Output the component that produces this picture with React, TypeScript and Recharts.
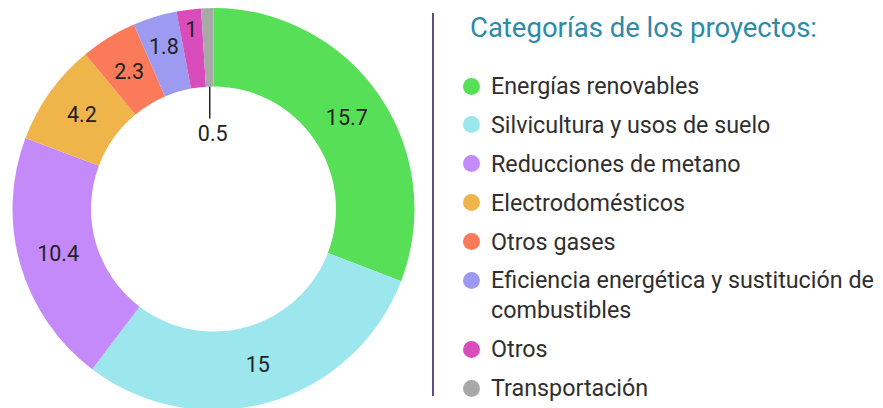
import { Cell, Legend, Pie, PieChart } from "recharts";

const categories = [
  "Energías renovables",
  "Silvicultura y usos de suelo",
  "Reducciones de metano",
  "Electrodomésticos",
  "Otros gases",
  "Eficiencia energética y sustitución de combustibles",
  "Otros",
  "Transportación",
];
const values = [15.7, 15, 10.4, 4.2, 2.3, 1.8, 1, 0.5];
const colors = ["#58DF58", "#9CE6EE", "#C48AF9", "#EFB54B", "#FA7A5A", "#9D9BF1", "#D94CBB", "#A8A8A8"];
const legendTitle = "Categorías de los proyectos:";

const data = categories.map((name, i) => ({ name, value: values[i], color: colors[i] }));

const FONT = "Roboto, 'Noto Sans', sans-serif";
const RAD = Math.PI / 180;

function renderLabel(props: any) {
  const { cx, cy, midAngle, innerRadius, outerRadius, value, percent } = props;
  const cos = Math.cos(-midAngle * RAD);
  const sin = Math.sin(-midAngle * RAD);
  if (percent < 0.015) {
    // tiny slice: leader line into the hole
    const x1 = cx + innerRadius * cos;
    const y1 = cy + innerRadius * sin;
    const y2 = y1 + 32;
    return (
      <g>
        <line x1={x1} y1={y1} x2={x1} y2={y2} stroke="#222" strokeWidth={1.5} />
        <text x={x1 + 3} y={y2 + 15} textAnchor="middle" dominantBaseline="central" fill="#222" fontSize={21.5} fontFamily={FONT}>
          {value}
        </text>
      </g>
    );
  }
  let r = (innerRadius + outerRadius) / 2;
  if (percent < 0.025) r = outerRadius - 20;
  else if (percent < 0.04) r += 8;
  const x = cx + r * cos;
  const y = cy + r * sin;
  return (
    <text x={x} y={y} textAnchor="middle" dominantBaseline="central" fill="#222" fontSize={21.5} fontFamily={FONT}>
      {value}
    </text>
  );
}

function LegendContent() {
  return (
    <div
      style={{
        borderLeft: "2px solid #5D4E7A",
        height: 383,
        paddingLeft: 29,
        fontFamily: FONT,
        boxSizing: "border-box",
      }}
    >
      <div style={{ color: "#2B8BA8", fontSize: 27.5, lineHeight: "30px", marginTop: 3, marginLeft: 7, marginBottom: 28, whiteSpace: "nowrap" }}>
        {legendTitle}
      </div>
      {data.map((d) => (
        <div key={d.name} style={{ display: "flex", alignItems: "flex-start", marginBottom: 8.9, maxWidth: 430 }}>
          <span
            style={{
              width: 17,
              height: 17,
              borderRadius: 9,
              background: d.color,
              flex: "0 0 17px",
              marginTop: 6.5,
              marginRight: 11,
            }}
          />
          <span style={{ color: "#2f2f2f", fontSize: 23.3, lineHeight: "30px" }}>{d.name}</span>
        </div>
      ))}
    </div>
  );
}

export default function App() {
  return (
    <div style={{ position: "absolute", left: 0, top: 0, width: 883, height: 408, background: "#fff" }}>
      <PieChart width={883} height={408} margin={{ top: 0, right: 0, bottom: 0, left: 0 }}>
        <Pie
          data={data}
          dataKey="value"
          nameKey="name"
          cx={213.5}
          cy={209}
          innerRadius={122.5}
          outerRadius={201}
          startAngle={90}
          endAngle={-270}
          stroke="none"
          label={renderLabel}
          labelLine={false}
          isAnimationActive={false}
        >
          {data.map((entry) => (
            <Cell key={entry.name} fill={entry.color} />
          ))}
        </Pie>
        <Legend
          layout="vertical"
          content={<LegendContent />}
          wrapperStyle={{ left: 432, top: 10, width: 451 }}
        />
      </PieChart>
    </div>
  );
}
